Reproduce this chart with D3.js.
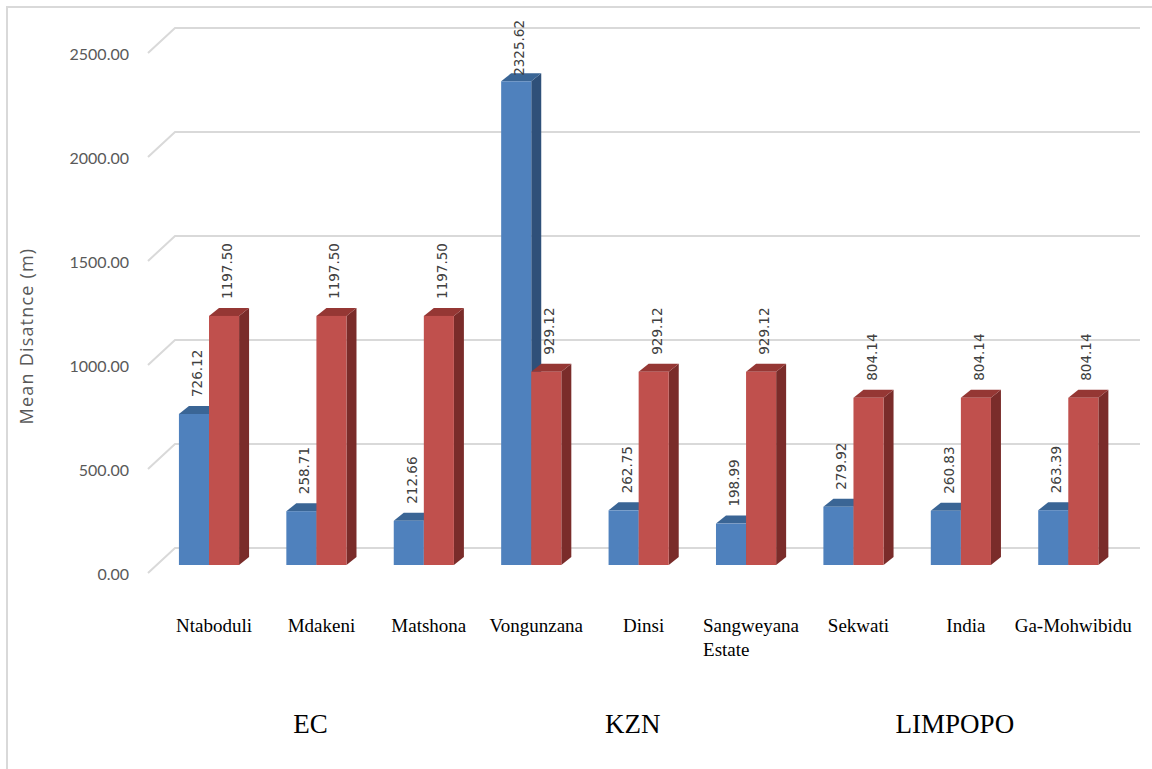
<!DOCTYPE html>
<html>
<head>
<meta charset="utf-8">
<script src="https://cdn.jsdelivr.net/npm/d3@7"></script>
<style>
  html, body { margin: 0; padding: 0; background: #fff; }
  svg { display: block; }
</style>
</head>
<body>
<svg id="chart" width="1152" height="769"></svg>
<script>
// Sites, grouped by province
const categories = ["Ntaboduli", "Mdakeni", "Matshona", "Vongunzana", "Dinsi",
  "Sangweyana Estate", "Sekwati", "India", "Ga-Mohwibidu"];
const categoryRegion = ["EC", "EC", "EC", "KZN", "KZN", "KZN", "LIMPOPO", "LIMPOPO", "LIMPOPO"];
const regions = ["EC", "KZN", "LIMPOPO"];

// Mean distance (m) per site, two series
const blueValues = [726.12, 258.71, 212.66, 2325.62, 262.75, 198.99, 279.92, 260.83, 263.39];
const redValues = [1197.50, 1197.50, 1197.50, 929.12, 929.12, 929.12, 804.14, 804.14, 804.14];

const yTicks = [0, 500, 1000, 1500, 2000, 2500];
const yTitle = "Mean Disatnce (m)";

const svg = d3.select("#chart");
const W = 1152, H = 769;

// 3D look: depth of the floor/wall and of each bar
const wallDX = 27, wallDY = -25;   // side-wall diagonal
const barDX = 10, barDY = -8;      // bar depth
const wallFront = 8, wallBack = -17; // offsets of wall planes vs. bar plane

const y = d3.scaleLinear().domain([0, 2500]).range([565, 45]);
const x = d3.scaleBand().domain(categories).range([155.3, 1122])
  .paddingInner(0.44).paddingOuter(0.22);
const xs = d3.scaleBand().domain(["blue", "red"]).range([0, x.bandwidth()]);

const colors = {
  blue: { front: "#4f81bd", top: "#3a6595", side: "#2f5079" },
  red: { front: "#c0504d", top: "#953734", side: "#7a2c2a" }
};

// outer frame
svg.append("rect").attr("x", 7).attr("y", 7).attr("width", W).attr("height", H)
  .attr("fill", "#fff").attr("stroke", "#d9d9d9").attr("stroke-width", 2);

// gridlines: back wall + left wall diagonals
const wallLeft = 148, wallRight = 1140;
const grid = svg.append("g").attr("stroke", "#d9d9d9").attr("stroke-width", 2).attr("fill", "none");
yTicks.forEach(v => {
  const yb = y(v) + wallBack, yf = y(v) + wallFront;
  grid.append("path").attr("d", `M${wallLeft},${yf}L${wallLeft + wallDX},${yb}L${wallRight},${yb}`);
});

// y tick labels
svg.append("g").selectAll("text").data(yTicks).join("text")
  .attr("x", 129).attr("y", d => y(d) + wallFront)
  .attr("text-anchor", "end").attr("dominant-baseline", "central")
  .attr("font-family", "Lato, 'Open Sans', sans-serif").attr("font-size", 16)
  .attr("fill", "#595959")
  .text(d => d3.format(".2f")(d));

// y title
svg.append("text")
  .attr("transform", `translate(26,${336}) rotate(-90)`)
  .attr("text-anchor", "middle").attr("dominant-baseline", "central")
  .attr("font-family", "'Open Sans', sans-serif").attr("font-size", 18)
  .attr("letter-spacing", 1.2)
  .attr("fill", "#595959")
  .text(yTitle);

// bars
function drawBar(g, x0, w, v, c) {
  const yt = y(v), yb = y(0);
  g.append("path").attr("fill", c.side)
    .attr("d", `M${x0 + w},${yt}L${x0 + w + barDX},${yt + barDY}L${x0 + w + barDX},${yb + barDY}L${x0 + w},${yb}Z`);
  g.append("path").attr("fill", c.top)
    .attr("d", `M${x0},${yt}L${x0 + barDX},${yt + barDY}L${x0 + w + barDX},${yt + barDY}L${x0 + w},${yt}Z`);
  g.append("rect").attr("fill", c.front)
    .attr("x", x0).attr("y", yt).attr("width", w).attr("height", yb - yt);
}

const bars = svg.append("g");
const labels = svg.append("g")
  .attr("font-family", "'DejaVu Sans', sans-serif").attr("font-size", 13.5)
  .attr("fill", "#404040");
const plotTop = 20;

categories.forEach((cat, i) => {
  const g = bars.append("g");
  const series = [["blue", blueValues[i]], ["red", redValues[i]]];
  series.forEach(([key, v]) => {
    drawBar(g, x(cat) + xs(key), xs.bandwidth(), v, colors[key]);
  });
  series.forEach(([key, v]) => {
    const cx = x(cat) + xs(key) + xs.bandwidth() / 2 + 3;
    const t = labels.append("text")
      .attr("dominant-baseline", "central")
      .attr("text-anchor", "start")
      .text(d3.format(".2f")(v));
    const len = t.node().getComputedTextLength();
    const start = Math.max(y(v) + barDY - 9, plotTop + len);
    t.attr("transform", `translate(${cx},${start}) rotate(-90)`);
  });
});

// category labels (wrapped when wider than a band step)
const catG = svg.append("g")
  .attr("font-family", "'Liberation Serif', 'Times New Roman', serif").attr("font-size", 19)
  .attr("fill", "#000");
categories.forEach(cat => {
  const cx = x(cat) + x.bandwidth() / 2 + barDX / 2;
  const t = catG.append("text").attr("x", cx).attr("y", 632).attr("text-anchor", "middle").text(cat);
  if (t.node().getComputedTextLength() > x.step() - 4 && cat.includes(" ")) {
    const words = cat.split(" ");
    t.text(words[0]);
    const bb = t.node().getBBox();
    catG.append("text").attr("x", bb.x).attr("y", 632 + 24).attr("text-anchor", "start")
      .text(words.slice(1).join(" "));
  }
});

// province labels, centred under each group of sites
const regG = svg.append("g")
  .attr("font-family", "'Liberation Serif', 'Times New Roman', serif").attr("font-size", 27)
  .attr("fill", "#000");
regions.forEach(r => {
  const idx = categoryRegion.map((d, i) => d === r ? i : -1).filter(i => i >= 0);
  const first = x(categories[idx[0]]), last = x(categories[idx[idx.length - 1]]) + x.bandwidth();
  regG.append("text").attr("x", (first + last) / 2 - 6).attr("y", 733)
    .attr("text-anchor", "middle").text(r);
});
</script>
</body>
</html>
